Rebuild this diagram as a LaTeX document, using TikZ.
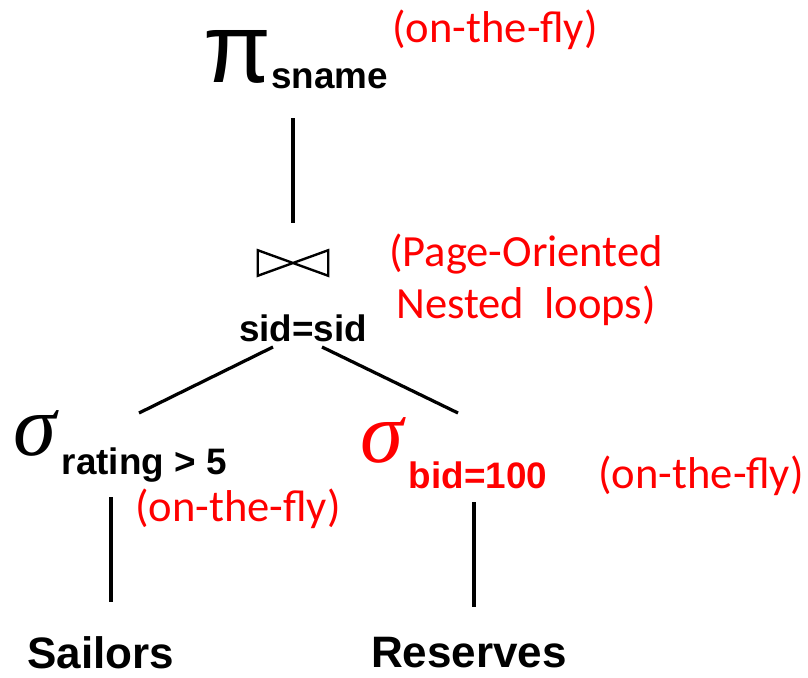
\documentclass[tikz,border=0pt]{standalone}
\usepackage{fontspec}
\setmainfont{Liberation Sans}
\newfontfamily\notefont{Carlito}
\newfontfamily\greekfont{Liberation Serif}
\usetikzlibrary{positioning}
\definecolor{notered}{HTML}{FF0000}
\newcommand{\bigpi}{{\mdseries\fontsize{70}{70}\selectfont π}}
\newcommand{\sig}{{\greekfont\mdseries\itshape\fontsize{62}{62}\selectfont σ}\kern4pt}

\begin{document}
\begin{tikzpicture}[
    x=0.025cm, y=-0.025cm,
    every node/.style={inner sep=0pt},
    lbl/.style={font=\fontsize{26.2}{28}\selectfont\bfseries},
    rel/.style={font=\fontsize{31.3}{34}\selectfont\bfseries},
    note/.style={font=\notefont\fontsize{31.7}{37}\selectfont, text=notered, align=center},
    edge/.style={line width=2.3pt}
]
    \useasboundingbox (0,0) rectangle (808,677);

    % projection on sname
    \node[lbl, anchor=base west] (proj) at (203,82) {\bigpi\raisebox{-4.3pt}{sname}};
    \node[note] (projnote) at (495,30) {(on-the-fly)};

    % join sid=sid
    \node[minimum width=49.8pt, minimum height=17.8pt] (join) at (293,263) {};
    \draw[line width=1.7pt, line join=miter]
        (join.north west) -- (join.south east) -- (join.north east)
        -- (join.south west) -- cycle;
    \node[lbl, anchor=base] (cond) at (303,341) {sid=sid};
    \node[note] (joinnote) at (526,280) {(Page-Oriented\\Nested\ \ loops)};

    % selections
    \node[lbl, anchor=base west] (selL) at (13,455) {\sig\raisebox{-14.2pt}{rating > 5}};
    \node[note] (selLnote) at (238,509) {(on-the-fly)};
    \node[lbl, anchor=base west, text=notered] (selR) at (360,462) {\sig\raisebox{-18.5pt}{bid=100}};
    \node[note] (selRnote) at (701,476) {(on-the-fly)};

    % base relations
    \node[rel, anchor=base] (sailors) at (101,668) {Sailors};
    \node[rel, anchor=base] (reserves) at (469,667) {Reserves};

    % tree edges
    \draw[edge] ([shift={(90,36)}]proj.base west) -- ([shift={(0,-27)}]join.north);
    \draw[edge] ([shift={(-30,6)}]cond.base) -- ([shift={(126,-42)}]selL.base west);
    \draw[edge] ([shift={(19,6)}]cond.base) -- ([shift={(98,-49)}]selR.base west);
    \draw[edge] ([shift={(98,42)}]selL.base west) -- ([shift={(10,-66)}]sailors.base);
    \draw[edge] ([shift={(114,40)}]selR.base west) -- ([shift={(5,-60)}]reserves.base);
\end{tikzpicture}
\end{document}
